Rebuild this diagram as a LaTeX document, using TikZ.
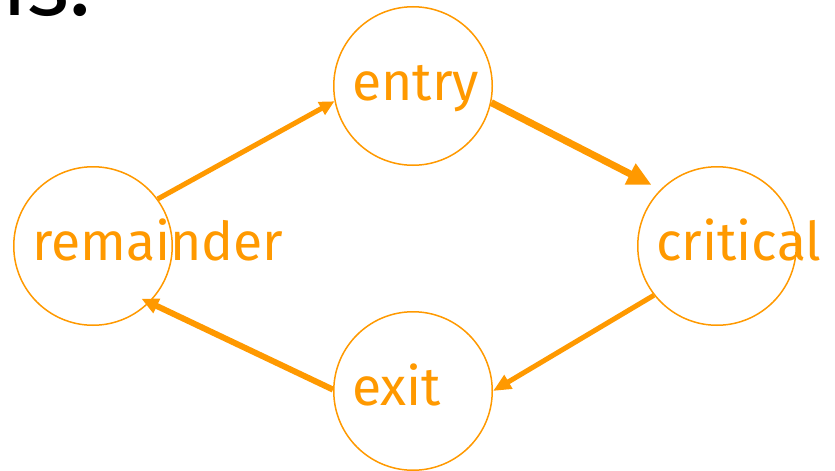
\documentclass[tikz,border=0pt]{standalone}
\usepackage{fontspec}
\setmainfont{Fira Sans}
\usetikzlibrary{arrows.meta}
\definecolor{stateorange}{RGB}{255,153,0}
\begin{document}
\begin{tikzpicture}[x=1pt,y=-1pt,
  state/.style={circle,draw=stateorange,line width=1.5pt,minimum size=158.5pt,inner sep=0pt},
  statename/.style={anchor=base west,text=stateorange,inner sep=0pt,
    font=\fontsize{53.5}{60}\selectfont},
  trans/.style={draw=stateorange,line cap=butt},
]
\useasboundingbox (0,0) rectangle (835,471);

% heading, cut off by the page edge
\node[anchor=base east,inner sep=0pt,font=\fontsize{90}{100}\selectfont] (heading) at (91,15) {ns:};

% the four states
\node[state] (remainder) at (93,246) {};
\node[state] (entry)     at (413,86) {};
\node[state] (critical)  at (717,246) {};
\node[state] (exit)      at (413,391) {};

\node[statename] (remainder-name) at ([shift={(-61,14)}]remainder.center) {remainder};
\node[statename] (entry-name)     at ([shift={(-61,14)}]entry.center) {entry};
\node[statename] (critical-name)  at ([shift={(-61,14)}]critical.center) {critical};
\node[statename] (exit-name)      at ([shift={(-61,14)}]exit.center) {exit};

% transitions
\draw[trans,line width=5pt,-{Triangle[length=15pt,width=14pt]}]
  (remainder.36.87) -- (entry.191.3);
\draw[trans,line width=7pt,-{Triangle[length=24pt,width=22pt]},shorten >=10pt]
  (entry.348) -- (critical.135.5);
\draw[trans,line width=5pt,-{Triangle[length=18pt,width=15pt]}]
  (critical.218) -- (exit.0.7);
\draw[trans,line width=6pt,-{Triangle[length=17pt,width=15pt]},shorten >=-9pt]
  (exit.179.3) -- (remainder.315);
\end{tikzpicture}
\end{document}
